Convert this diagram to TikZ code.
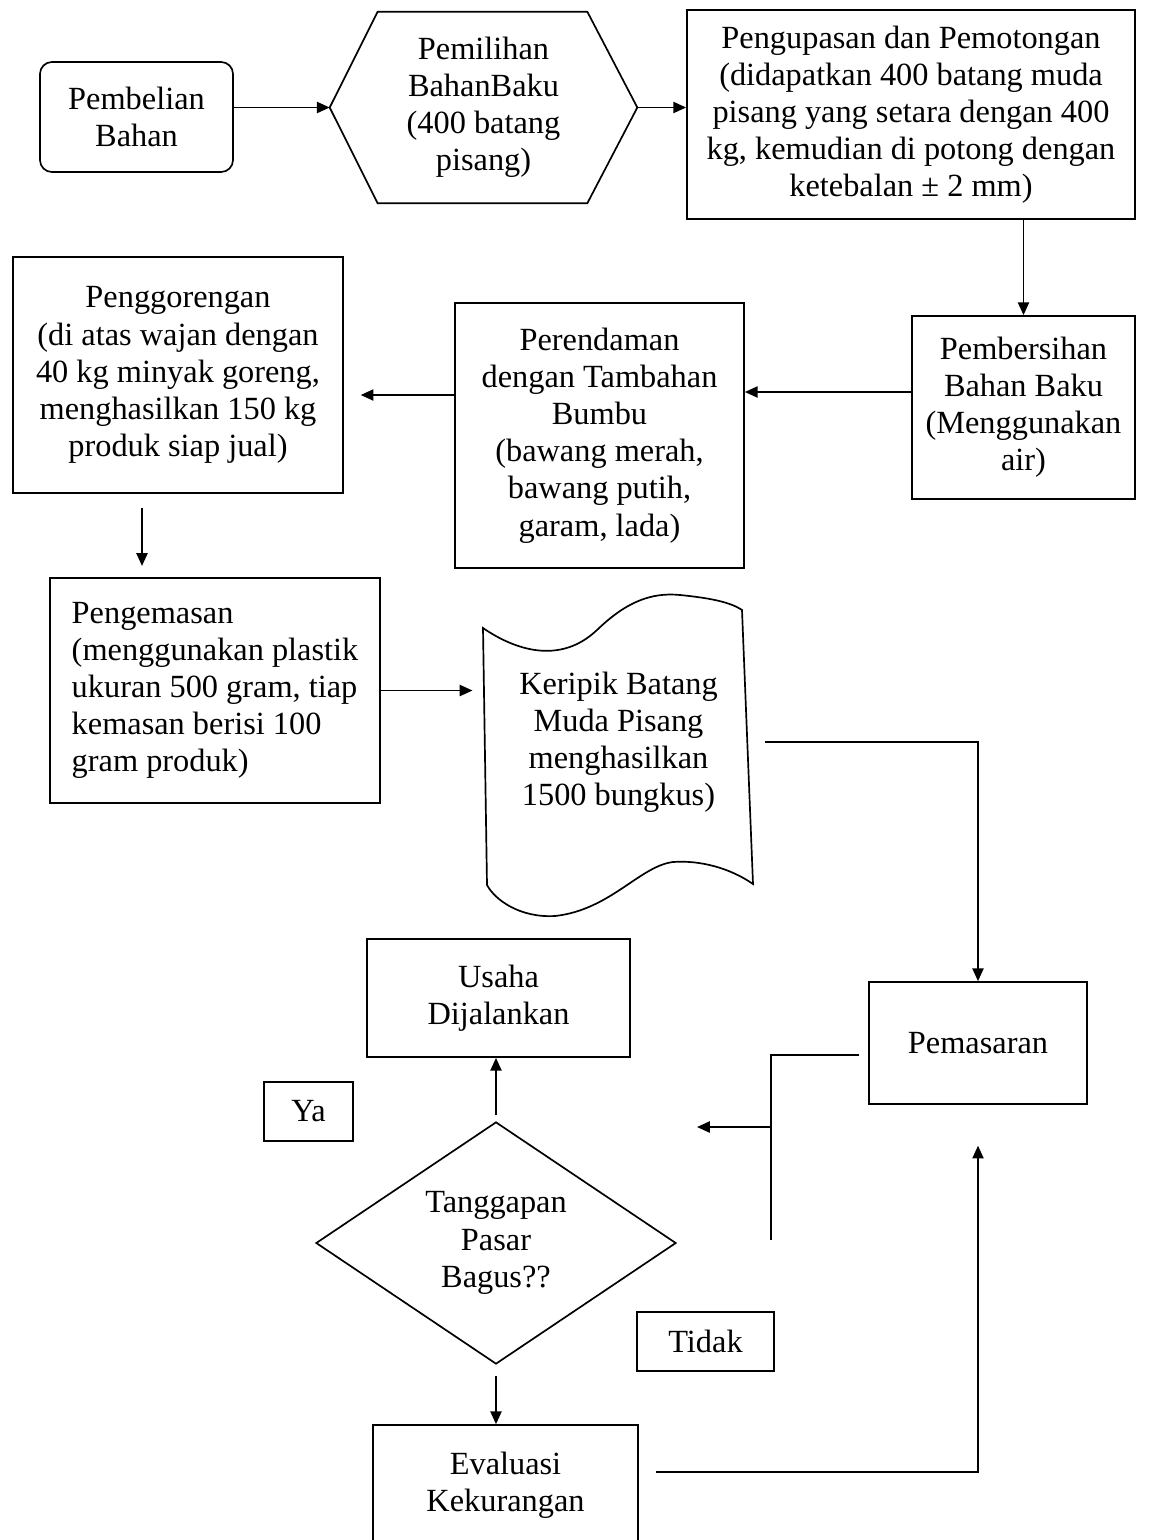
\documentclass[tikz,border=0pt]{standalone}
\usepackage{fontspec}
\setmainfont{Liberation Serif}
\usetikzlibrary{arrows.meta, shapes.geometric, calc}

\begin{document}
\begin{tikzpicture}[
        x=0.025cm, y=-0.025cm,
        font=\fontsize{23}{26.4}\selectfont,
        box/.style={rectangle, draw, line width=1.2pt, align=center, inner sep=2pt},
        soft/.style={box, rounded corners=0.3cm},
        decision/.style={diamond, draw, line width=1.2pt, align=center, aspect=1.5, inner sep=0pt},
        plain/.style={rectangle, align=center, inner sep=0pt},
        arrow/.style={-{Triangle[length=0.32cm, width=0.28cm]}, line width=1.2pt},
        link/.style={line width=1.2pt}
    ]
        \useasboundingbox (0,0) rectangle (1157,1540);

        % baris atas
        \node[soft, minimum width=4.825cm, minimum height=2.75cm] (beli) at (136.5,117) {Pembelian\\Bahan};
        \node[plain, minimum width=7.675cm, minimum height=4.775cm] (pilih) at (483.5,107.5) {Pemilihan\\BahanBaku\\(400 batang\\pisang)};
        \draw[link] (pilih.west) -- ([xshift=1.2cm]pilih.north west) -- ([xshift=-1.25cm]pilih.north east) -- (pilih.east)
            -- ([xshift=-1.25cm]pilih.south east) -- ([xshift=1.2cm]pilih.south west) -- cycle;
        \node[box, minimum width=11.2cm, minimum height=5.225cm] (kupas) at (911,114.5) {Pengupasan dan Pemotongan\\(didapatkan 400 batang muda\\pisang yang setara dengan 400\\kg, kemudian di potong dengan\\ketebalan ± 2 mm)};

        % baris tengah
        \node[box, minimum width=5.575cm, minimum height=4.575cm] (bersih) at (1023.5,407.5) {Pembersihan\\Bahan Baku\\(Menggunakan\\air)};
        \node[box, minimum width=7.225cm, minimum height=6.625cm] (rendam) at (599.5,435.5) {Perendaman\\dengan Tambahan\\Bumbu\\(bawang merah,\\bawang putih,\\garam, lada)};
        \node[box, minimum width=8.25cm, minimum height=5.9cm] (goreng) at (178,375) {Penggorengan\\(di atas wajan dengan\\40 kg minyak goreng,\\menghasilkan 150 kg\\produk siap jual)};
        \node[box, align=left, minimum width=8.25cm, minimum height=5.625cm] (kemas) at (215,690.5) {Pengemasan\\(menggunakan plastik\\ukuran 500 gram, tiap\\kemasan berisi 100\\gram produk)};
        \node[plain, minimum width=6.725cm, minimum height=8.025cm] (keripik) at (618.5,742) {Keripik Batang\\Muda Pisang\\menghasilkan\\1500 bungkus)};
        \draw[link] (483,628) .. controls (515,650) and (560,665) .. (597,630) .. controls (625,603) and (650,592) .. (680,595)
            .. controls (710,598) and (730,602) .. (742,610) -- (753,884)
            .. controls (730,868) and (700,860) .. (673,862) .. controls (640,866) and (610,910) .. (555,916)
            .. controls (520,918) and (495,900) .. (487,885) -- cycle;

        % baris bawah
        \node[box, minimum width=6.575cm, minimum height=2.95cm] (usaha) at (498.5,998) {Usaha\\Dijalankan};
        \node[box, minimum width=5.45cm, minimum height=3.05cm] (pasar) at (978,1043) {Pemasaran};
        \node[box, minimum width=2.225cm, minimum height=1.475cm] (ya) at (308.5,1111.5) {Ya};
        \node[decision, minimum width=9cm, minimum height=6.05cm] (tanggap) at (496,1243) {Tanggapan\\Pasar\\Bagus??};
        \node[box, minimum width=3.425cm, minimum height=1.475cm] (tidak) at (705.5,1341.5) {Tidak};
        \node[box, minimum width=6.625cm, minimum height=3cm] (eval) at (505.5,1485) {Evaluasi\\Kekurangan};

        \coordinate (cabang) at (771,1127);
        \coordinate (balik) at (771,1240);
        \coordinate (ujung) at (697,1127);

        \draw[arrow] (beli.east |- pilih.west) -- (pilih.west);
        \draw[arrow] (pilih.east) -- (pilih.east -| kupas.west);
        \draw[arrow] (kupas.south -| bersih.north) -- (bersih.north);
        \draw[arrow] ($(bersih.west)+(0,-15.5)$) -- ($(bersih.west -| rendam.east)+(0,-15.5)$);
        \draw[arrow, shorten >=0.42cm] ($(rendam.west)+(0,-40.5)$) -- ($(rendam.west -| goreng.east)+(0,-40.5)$);
        \draw[arrow, shorten <=0.35cm, shorten >=0.28cm] ($(goreng.south)+(-36,0)$) -- ($(goreng.south |- kemas.north)+(-36,0)$);
        \draw[arrow, shorten >=0.28cm] (kemas.east) -- (kemas.east -| keripik.west);
        \draw[arrow, shorten <=0.3cm] (keripik.east) -| (pasar.north);
        \draw[link, shorten <=0.22cm] ($(pasar.west)+(0,12)$) -| (balik);
        \draw[arrow] (cabang) -- (ujung);
        \draw[arrow, shorten <=0.15cm] (tanggap.north) -- (tanggap.north |- usaha.south);
        \draw[arrow, shorten <=0.28cm] (tanggap.south) -- (tanggap.south |- eval.north);
        \draw[arrow, shorten <=0.42cm, shorten >=1.02cm] ($(eval.east)+(0,-13)$) -| (pasar.south);
    \end{tikzpicture}
\end{document}
